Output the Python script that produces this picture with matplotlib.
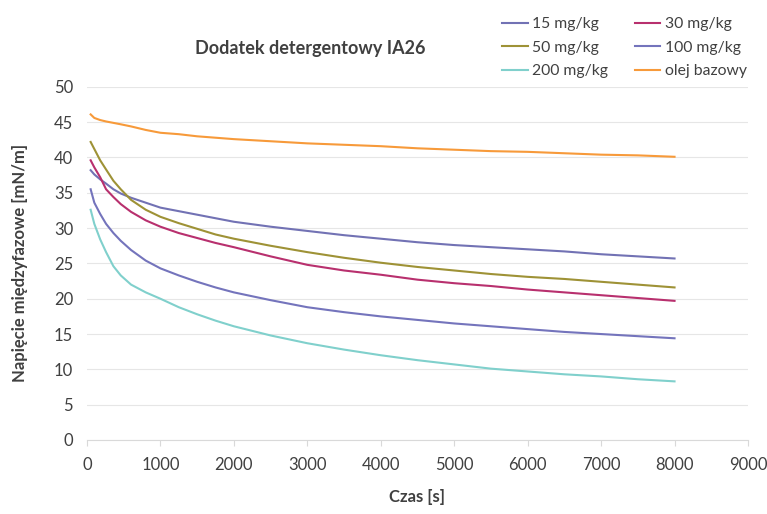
import matplotlib.pyplot as plt

# time points [s]
czas = [50, 100, 180, 260, 360, 460, 600, 800, 1000, 1250, 1500, 1750, 2000, 2500, 3000,
        3500, 4000, 4500, 5000, 5500, 6000, 6500, 7000, 7500, 8000]

s15 = [38.2, 37.6, 36.9, 36.3, 35.5, 34.9, 34.3, 33.6, 32.9, 32.4, 31.9, 31.4, 30.9, 30.2, 29.6,
       29.0, 28.5, 28.0, 27.6, 27.3, 27.0, 26.7, 26.3, 26.0, 25.7]
s30 = [39.6, 38.6, 37.2, 35.5, 34.4, 33.4, 32.3, 31.1, 30.2, 29.3, 28.6, 27.9, 27.3, 26.0, 24.8,
       24.0, 23.4, 22.7, 22.2, 21.8, 21.3, 20.9, 20.5, 20.1, 19.7]
s50 = [42.2, 41.2, 39.6, 38.3, 36.7, 35.5, 34.0, 32.6, 31.6, 30.7, 29.9, 29.1, 28.5, 27.5, 26.6,
       25.8, 25.1, 24.5, 24.0, 23.5, 23.1, 22.8, 22.4, 22.0, 21.6]
s100 = [35.5, 33.6, 32.0, 30.6, 29.3, 28.2, 26.9, 25.4, 24.3, 23.3, 22.4, 21.6, 20.9, 19.8, 18.8,
        18.1, 17.5, 17.0, 16.5, 16.1, 15.7, 15.3, 15.0, 14.7, 14.4]
s200 = [32.6, 30.6, 28.4, 26.6, 24.6, 23.3, 22.0, 20.9, 20.0, 18.8, 17.8, 16.9, 16.1, 14.8, 13.7,
        12.8, 12.0, 11.3, 10.7, 10.1, 9.7, 9.3, 9.0, 8.6, 8.3]
baza = [46.1, 45.6, 45.3, 45.1, 44.9, 44.7, 44.4, 43.9, 43.5, 43.3, 43.0, 42.8, 42.6, 42.3, 42.0,
        41.8, 41.6, 41.3, 41.1, 40.9, 40.8, 40.6, 40.4, 40.3, 40.1]

serie = [("15 mg/kg", s15, '#7272B4'), ("30 mg/kg", s30, '#B8306E'),
         ("50 mg/kg", s50, '#9E9236'), ("100 mg/kg", s100, '#7474BC'),
         ("200 mg/kg", s200, '#80D0CC'), ("olej bazowy", baza, '#F79A3A')]

plt.rc('font', family=['Lato', 'DejaVu Sans'], size=11)

fig = plt.figure(figsize=[7.67, 5.14], dpi=100)
ax = fig.add_axes([0.1134, 0.144, 0.8618, 0.687])

lines = []
for name, vals, col in serie:
    line, = ax.plot(czas, vals, color=col, linewidth=1.5, label=name)
    lines.append(line)

ax.set_xlim(0, 9000)
ax.set_ylim(0, 50)
ax.set_xticks(range(0, 9001, 1000))
ax.set_yticks(range(0, 51, 5))
ax.grid(axis='y', color='#E6E6E6', linewidth=0.8)
ax.set_axisbelow(True)
for side in ['top', 'right', 'left']:
    ax.spines[side].set_visible(False)
ax.spines['bottom'].set_color('#D9D9D9')
ax.tick_params(axis='x', colors='#D9D9D9', length=4, labelcolor='#404040', labelsize=12, pad=8)
ax.tick_params(axis='y', length=0, labelcolor='#404040', labelsize=12, pad=10)

fig.text(0.404, 0.905, 'Dodatek detergentowy IA26', ha='center', va='center',
         fontsize=13, fontweight='bold', color='#404040')
fig.text(0.544, 0.033, 'Czas [s]', ha='center', va='center',
         fontsize=12, fontweight='bold', color='#404040')
fig.text(0.026, 0.488, 'Napięcie międzyfazowe [mN/m]', ha='center', va='center',
         rotation=90, fontsize=12, fontweight='bold', color='#404040')

# legend is filled row by row in the reference
order = [lines[0], lines[2], lines[4], lines[1], lines[3], lines[5]]
fig.legend(handles=order, loc='upper right', bbox_to_anchor=(0.992, 0.994), ncol=2,
           frameon=False, fontsize=11.3, handlelength=1.6, handletextpad=0.3,
           columnspacing=1.7, labelspacing=0.6, labelcolor='#404040')

plt.savefig('out.png', dpi=100)
